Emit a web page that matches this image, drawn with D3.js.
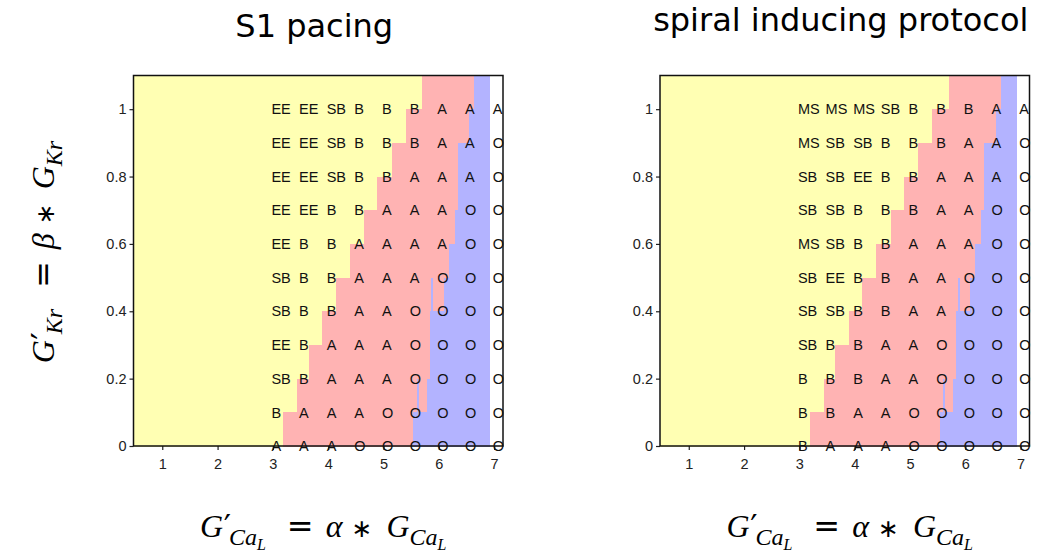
<!DOCTYPE html>
<html>
<head>
<meta charset="utf-8">
<script src="https://cdn.jsdelivr.net/npm/d3@7"></script>
<style>
  body { margin: 0; background: #fff; }
  .tick text { font-family: "Liberation Sans", Arial, sans-serif; font-size: 14.5px; fill: #222; }
  .tick line { stroke: #222; stroke-width: 1.2; }
  .cell { font-family: "Liberation Sans", Arial, sans-serif; font-size: 14.5px; fill: #111; }
  .title { font-family: "DejaVu Sans", sans-serif; font-size: 32px; fill: #000; }
  .math { font-family: "Liberation Serif", "Times New Roman", serif; fill: #000; }
</style>
</head>
<body>
<svg id="fig" width="1042" height="559"></svg>
<script>
// grid of simulated parameter pairs
var alphaCols = [3, 3.5, 4, 4.5, 5, 5.5, 6, 6.5, 7];
var betaRows = [1.0, 0.9, 0.8, 0.7, 0.6, 0.5, 0.4, 0.3, 0.2, 0.1, 0.0];

var xTicks = [1, 2, 3, 4, 5, 6, 7];
var yTicks = [0, 0.2, 0.4, 0.6, 0.8, 1];

// outcome labels, rows from beta = 1 down to beta = 0
var s1Labels = [
  ["EE", "EE", "SB", "B", "B", "B", "A", "A", "A"],
  ["EE", "EE", "SB", "B", "B", "B", "A", "A", "O"],
  ["EE", "EE", "SB", "B", "B", "A", "A", "A", "O"],
  ["EE", "EE", "B", "B", "A", "A", "A", "O", "O"],
  ["EE", "B", "B", "A", "A", "A", "A", "O", "O"],
  ["SB", "B", "B", "A", "A", "A", "O", "O", "O"],
  ["SB", "B", "B", "A", "A", "O", "O", "O", "O"],
  ["EE", "B", "A", "A", "A", "O", "O", "O", "O"],
  ["SB", "B", "A", "A", "A", "O", "O", "O", "O"],
  ["B", "A", "A", "A", "O", "O", "O", "O", "O"],
  ["A", "A", "A", "O", "O", "O", "O", "O", "O"]
];

var spiralLabels = [
  ["MS", "MS", "MS", "SB", "B", "B", "B", "A", "A"],
  ["MS", "SB", "SB", "B", "B", "B", "A", "A", "O"],
  ["SB", "SB", "EE", "B", "B", "A", "A", "A", "O"],
  ["SB", "SB", "B", "B", "B", "A", "A", "O", "O"],
  ["MS", "SB", "B", "B", "A", "A", "A", "O", "O"],
  ["SB", "EE", "B", "B", "A", "A", "O", "O", "O"],
  ["SB", "SB", "B", "B", "A", "A", "O", "O", "O"],
  ["SB", "B", "B", "A", "A", "O", "O", "O", "O"],
  ["B", "B", "B", "A", "A", "O", "O", "O", "O"],
  ["B", "B", "A", "A", "O", "O", "O", "O", "O"],
  ["B", "A", "A", "A", "O", "O", "O", "O", "O"]
];

// background regions, one band per beta step (bottom to top)
var bandEdges = [0, 0.1, 0.2, 0.3, 0.4, 0.5, 0.6, 0.7, 0.8, 0.9, 1.0, 1.1];
var yellowEnd = [3.19, 3.44, 3.65, 3.89, 4.14, 4.39, 4.65, 4.89, 5.15, 5.40, 5.70];
var pinkEnd   = [5.54, 5.78, 5.84, 5.84, 6.09, 6.18, 6.29, 6.34, 6.34, 6.55, 6.64];
var blueEnd   = [6.93, 6.93, 6.93, 6.93, 6.93, 6.93, 6.93, 6.93, 6.93, 6.93, 6.93];
var blueSlivers = [
  {band: 1, from: 5.60, to: 5.64},
  {band: 4, from: 5.86, to: 5.90}
];

var xDomain = [0.48, 7.16];
var yDomain = [0, 1.1];

var svg = d3.select("#fig");

drawPanel(133.5, s1Labels, "S1 pacing", 37, true);
drawPanel(660, spiralLabels, "spiral inducing protocol", 31, false);

function drawPanel(left, labels, title, titleY, withYLabel) {
  var top = 75.5;
  var width = 369.5;
  var height = 370.5;

  var x = d3.scaleLinear().domain(xDomain).range([0, width]);
  var y = d3.scaleLinear().domain(yDomain).range([height, 0]);

  var chart = svg.append("g")
    .attr("transform", "translate(" + left + "," + top + ")");

  var bg = chart.append("g").attr("shape-rendering", "crispEdges");
  var bands = d3.range(yellowEnd.length);

  function band(cls, color, x0, x1) {
    bg.selectAll("rect." + cls)
      .data(bands)
      .enter().append("rect")
      .attr("class", cls)
      .attr("x", function(i) { return x(x0(i)); })
      .attr("width", function(i) { return Math.max(0, x(x1(i)) - x(x0(i))); })
      .attr("y", function(i) { return y(bandEdges[i + 1]); })
      .attr("height", function(i) { return y(bandEdges[i]) - y(bandEdges[i + 1]) + 0.5; })
      .attr("fill", color);
  }

  band("yellow", "#ffffb3", function() { return xDomain[0]; }, function(i) { return yellowEnd[i]; });
  band("pink", "#ffb3b3", function(i) { return yellowEnd[i]; }, function(i) { return pinkEnd[i]; });
  band("blue", "#b3b3ff", function(i) { return pinkEnd[i]; }, function(i) { return blueEnd[i]; });

  bg.selectAll("rect.sliver")
    .data(blueSlivers)
    .enter().append("rect")
    .attr("class", "sliver")
    .attr("x", function(d) { return x(d.from); })
    .attr("width", function(d) { return x(d.to) - x(d.from); })
    .attr("y", function(d) { return y(bandEdges[d.band + 1]); })
    .attr("height", function(d) { return y(bandEdges[d.band]) - y(bandEdges[d.band + 1]); })
    .attr("fill", "#b3b3ff");

  chart.append("g")
    .attr("transform", "translate(0," + height + ")")
    .call(d3.axisBottom(x).tickValues(xTicks).tickSize(4).tickPadding(9).tickSizeOuter(0)
      .tickFormat(function(d) { return String(d); }))
    .call(function(g) { g.select(".domain").remove(); });

  chart.append("g")
    .call(d3.axisLeft(y).tickValues(yTicks).tickSize(4).tickPadding(3).tickSizeOuter(0)
      .tickFormat(function(d) { return String(d); }))
    .call(function(g) { g.select(".domain").remove(); });

  chart.append("rect")
    .attr("width", width)
    .attr("height", height)
    .attr("fill", "none")
    .attr("stroke", "#111")
    .attr("stroke-width", 1.5);

  var cells = [];
  labels.forEach(function(row, r) {
    row.forEach(function(txt, c) {
      cells.push({a: alphaCols[c], b: betaRows[r], t: txt});
    });
  });

  chart.selectAll("text.cell")
    .data(cells)
    .enter().append("text")
    .attr("class", "cell")
    .attr("x", function(d) { return x(d.a) - 1.5; })
    .attr("y", function(d) { return y(d.b); })
    .attr("dy", "0.36em")
    .text(function(d) { return d.t; });

  chart.append("text")
    .attr("class", "title")
    .attr("x", width / 2 - 4)
    .attr("y", titleY - top)
    .attr("text-anchor", "middle")
    .text(title);

  var xl = chart.append("text")
    .attr("class", "math")
    .attr("x", width / 2 + 5)
    .attr("y", 537 - top)
    .attr("text-anchor", "middle");
  mathLabel(xl, "Ca", "L", "\u03b1");

  if (withYLabel) {
    var yl = chart.append("text")
      .attr("class", "math")
      .attr("text-anchor", "middle")
      .attr("transform", "translate(" + (54 - left) + "," + (252 - top) + ") rotate(-90)");
    mathLabel(yl, "Kr", null, "\u03b2");
  }
}

// G'_{sub} = coef * G_{sub}
function mathLabel(t, sub, subsub, coef) {
  var main = 32, s1 = 24, s2 = 16;
  function piece(txt, size, opts) {
    var ts = t.append("tspan").attr("font-size", size).text(txt);
    if (opts.italic) ts.attr("font-style", "italic");
    if (opts.family) ts.attr("font-family", opts.family);
    if (opts.dx) ts.attr("dx", opts.dx);
    if (opts.dy) ts.attr("dy", opts.dy);
  }
  function gSub(first, dx) {
    piece("G", main, {italic: true, dx: dx});
    if (first) piece("\u2032", main, {family: "DejaVu Serif", dx: 0.5});
    piece(sub, s1, {italic: true, dy: 8, dx: first ? -2 : 0});
    if (subsub) {
      piece(subsub, s2, {italic: true, dy: 5});
      return -13;
    }
    return -8;
  }
  var back = gSub(true, 0);
  piece("=", main, {family: "DejaVu Sans", dx: 21, dy: back});
  piece(coef, main, {italic: true, dx: 12});
  piece("\u2217", 25, {family: "DejaVu Sans", dx: 9});
  gSub(false, 14);
}
</script>
</body>
</html>
